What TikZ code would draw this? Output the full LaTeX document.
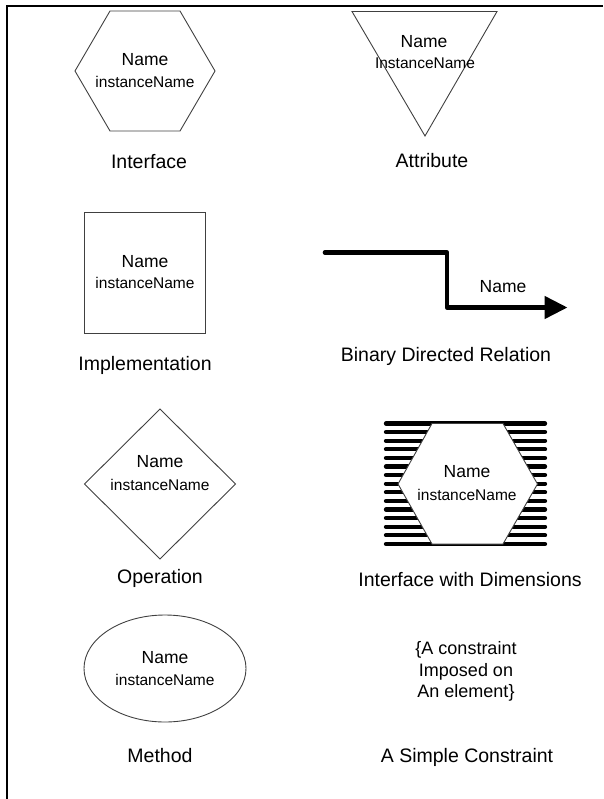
\documentclass[tikz,border=0pt]{standalone}
\usepackage{fontspec}
\setmainfont{Liberation Sans}
\usetikzlibrary{arrows.meta}
\begin{document}
\begin{tikzpicture}[x=1pt,y=-1pt,
  shapeline/.style={draw=black!75, line width=0.9pt},
  nametext/.style={font=\fontsize{17.5}{20}\selectfont, inner sep=0pt, text height=12.5pt, text depth=0pt},
  insttext/.style={font=\fontsize{15.5}{18}\selectfont, inner sep=0pt, text height=11.1pt, text depth=0pt},
  caption/.style={font=\fontsize{19.5}{23}\selectfont, inner sep=0pt, text height=14pt, text depth=0pt},
  stripe/.style={line width=4.3pt, line cap=round},
  relation/.style={line width=4.7pt, line cap=round, line join=round,
    -{Triangle[length=23pt,width=22pt]}},
]
\useasboundingbox (0,0) rectangle (603,799);

% frame along the top and left edges
\draw[line width=2.2pt] (7,799) -- (7,6) -- (603,6);

% ---- Interface: hexagon
\draw[shapeline] (75,71) -- (110,11) -- (180,11) -- (215,71) -- (180,131) -- (110,131) -- cycle;
\node[nametext] (ifname) at (145,59) {Name};
\node[insttext] (ifinst) at (145,82) {instanceName};
\node[caption] (ifcap) at (149,162) {Interface};

% ---- Attribute: inverted triangle
\draw[shapeline] (352,11.5) -- (497,11.5) -- (425,136) -- cycle;
\node[nametext] (atname) at (424,41) {Name};
\node[insttext] (atinst) at (425,63) {InstanceName};
\node[caption] (atcap) at (432,161) {Attribute};

% ---- Implementation: square
\draw[shapeline] (84.5,212.5) rectangle (205.5,333.5);
\node[nametext] (imname) at (145,261.5) {Name};
\node[insttext] (iminst) at (145,283) {instanceName};
\node[caption] (imcap) at (145,363) {Implementation};

% ---- Binary directed relation: stepped thick arrow
\coordinate (relstart) at (325,252.5);
\coordinate (relbendA) at (447,252.5);
\coordinate (relbendB) at (447,307.5);
\coordinate (relend) at (567.5,307.5);
\draw[relation] (relstart) -- (relbendA) -- (relbendB) -- (relend);
\node[nametext] (relname) at (503,286.5) {Name};
\node[caption] (relcap) at (446,354) {Binary Directed Relation};

% ---- Operation: diamond
\draw[shapeline] (160,409) -- (235.5,484) -- (160,559) -- (84.5,484) -- cycle;
\node[nametext] (opname) at (160,461.5) {Name};
\node[insttext] (opinst) at (160,484.5) {instanceName};
\node[caption] (opcap) at (160,576) {Operation};

% ---- Interface with dimensions: striped band behind a hexagon
\foreach \k in {0,...,14}
  \draw[stripe] (386,423.5+8.6*\k) -- (545,423.5+8.6*\k);
\draw[shapeline, fill=white] (398,484) -- (432,423.5) -- (503,423.5) -- (537.5,484) -- (503,544) -- (432,544) -- cycle;
\node[nametext] (dmname) at (467,471.5) {Name};
\node[insttext] (dminst) at (467,495) {instanceName};
\node[caption] (dmcap) at (470,579) {Interface with Dimensions};

% ---- Method: ellipse
\draw[shapeline] (165,668.5) ellipse [x radius=81, y radius=53.5];
\node[nametext] (mtname) at (165,657.5) {Name};
\node[insttext] (mtinst) at (165,680) {instanceName};
\node[caption] (mtcap) at (160,755) {Method};

% ---- Simple constraint: bracketed text
\node[font=\fontsize{18}{21.2}\selectfont, align=center, inner sep=0pt] (cstext) at (466,671.5)
  {\{A constraint\\Imposed on\\An element\}};
\node[caption] (cscap) at (467,755) {A Simple Constraint};
\end{tikzpicture}
\end{document}
